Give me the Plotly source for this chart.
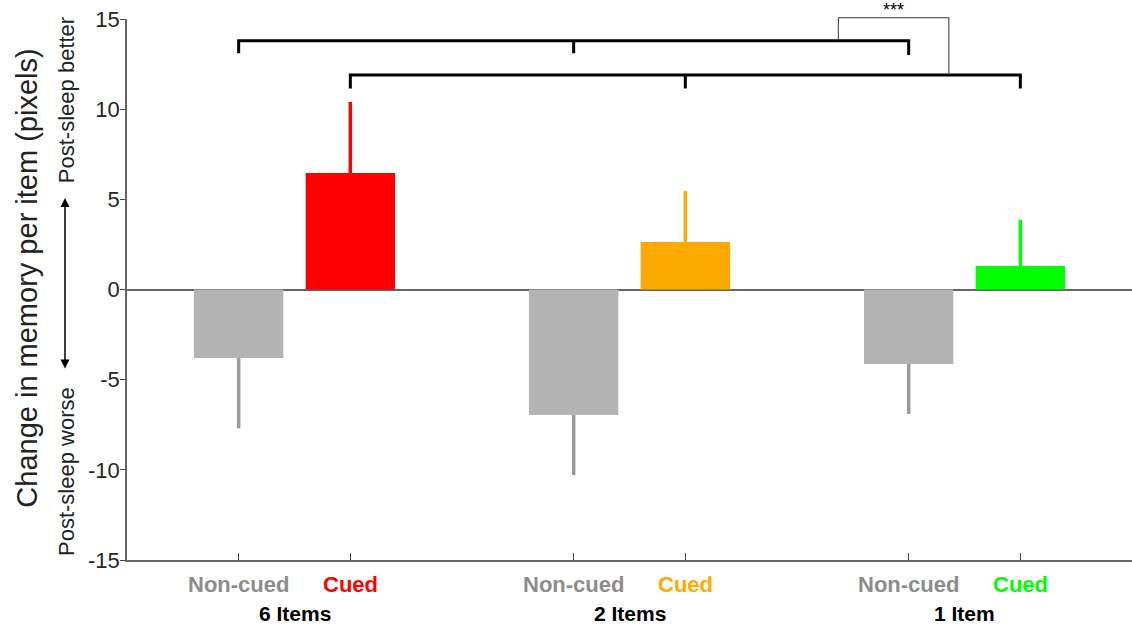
import plotly.graph_objects as go

# ---- data ----
groups = ["6 Items", "2 Items", "1 Item"]
noncued_x = [1, 4, 7]
cued_x = [2, 5, 8]
noncued_mean = [-3.8, -6.96, -4.13]
noncued_sem = [3.9, 3.33, 2.77]
cued_mean = [6.46, 2.63, 1.30]
cued_sem = [3.94, 2.83, 2.55]
cued_colors = ["#ff0000", "#ffaa00", "#00ff00"]
noncued_color = "#b3b3b3"
noncued_err_color = "#9a9a9a"
noncued_label_color = "#8c8c8c"
yticks = [-15, -10, -5, 0, 5, 10, 15]
ytick_text = ["-15", "-10", "-5", "0", "5", "10", "15"]
XR = [0, 9]
YR = [-15, 15]

FONT = "Arial, Liberation Sans, sans-serif"

def px(x):
    return (x - XR[0]) / (XR[1] - XR[0])

def py(v):
    return (v - YR[0]) / (YR[1] - YR[0])

fig = go.Figure()

fig.add_trace(go.Bar(
    x=noncued_x, y=noncued_mean, width=0.8,
    marker=dict(color=noncued_color, line=dict(width=0)),
    error_y=dict(type="data", symmetric=False, array=[0, 0, 0], arrayminus=noncued_sem,
                 color=noncued_err_color, thickness=3.5, width=0),
    showlegend=False, hoverinfo="skip"))

for i in range(3):
    fig.add_trace(go.Bar(
        x=[cued_x[i]], y=[cued_mean[i]], width=0.8,
        marker=dict(color=cued_colors[i], line=dict(width=0)),
        error_y=dict(type="data", symmetric=False, array=[cued_sem[i]], arrayminus=[0],
                     color=cued_colors[i], thickness=3.5, width=0),
        showlegend=False, hoverinfo="skip"))

shapes = []
# upper comparison bracket (non-cued)
up_y, up_tick = 13.8, 13.1
shapes.append(dict(type="path", xref="x", yref="y",
                   path=f"M {noncued_x[0]},{up_tick} L {noncued_x[0]},{up_y} L {noncued_x[2]},{up_y} L {noncued_x[2]},{up_tick - 0.1}",
                   line=dict(color="black", width=3)))
shapes.append(dict(type="line", xref="x", yref="y", x0=noncued_x[1], x1=noncued_x[1], y0=up_y, y1=up_tick,
                   line=dict(color="black", width=3)))
# lower comparison bracket (cued)
lo_y, lo_tick = 11.9, 11.15
shapes.append(dict(type="path", xref="x", yref="y",
                   path=f"M {cued_x[0]},{lo_tick} L {cued_x[0]},{lo_y} L {cued_x[2]},{lo_y} L {cued_x[2]},{lo_tick}",
                   line=dict(color="black", width=3)))
shapes.append(dict(type="line", xref="x", yref="y", x0=cued_x[1], x1=cued_x[1], y0=lo_y, y1=lo_tick,
                   line=dict(color="black", width=3)))
# significance bracket between the two
sx0, sx1, stop = 6.37, 7.36, 15.07
shapes.append(dict(type="path", xref="paper", yref="paper",
                   path=f"M {px(sx0)},{py(up_y)} L {px(sx0)},{py(stop)} L {px(sx1)},{py(stop)} L {px(sx1)},{py(lo_y)}",
                   line=dict(color="#333333", width=1)))

annotations = []
annotations.append(dict(x=px((sx0 + sx1) / 2), y=py(stop), xref="paper", yref="paper",
                        text="***", showarrow=False, xanchor="center", yanchor="bottom", yshift=-4,
                        font=dict(family=FONT, size=18, color="black")))

# x labels
for i in range(3):
    annotations.append(dict(x=noncued_x[i], y=-0.0444, xref="x", yref="paper", text="<b>Non-cued</b>",
                            showarrow=False, xanchor="center", yanchor="middle",
                            font=dict(family=FONT, size=22, color=noncued_label_color)))
    annotations.append(dict(x=cued_x[i], y=-0.0444, xref="x", yref="paper", text="<b>Cued</b>",
                            showarrow=False, xanchor="center", yanchor="middle",
                            font=dict(family=FONT, size=22, color=cued_colors[i])))
    annotations.append(dict(x=(noncued_x[i] + cued_x[i]) / 2, y=-0.0998, xref="x", yref="paper",
                            text=f"<b>{groups[i]}</b>", showarrow=False, xanchor="center", yanchor="middle",
                            font=dict(family=FONT, size=21, color="black")))

# y title and side labels
annotations.append(dict(x=-0.0995, y=0.52, xref="paper", yref="paper",
                        text="Change in memory per item (pixels)", textangle=-90, showarrow=False,
                        xanchor="center", yanchor="middle",
                        font=dict(family=FONT, size=29, color="#222222")))
annotations.append(dict(x=-0.0607, y=0.850, xref="paper", yref="paper",
                        text="Post-sleep better", textangle=-90, showarrow=False,
                        xanchor="center", yanchor="middle",
                        font=dict(family=FONT, size=22, color="#222222")))
annotations.append(dict(x=-0.0607, y=0.1645, xref="paper", yref="paper",
                        text="Post-sleep worse", textangle=-90, showarrow=False,
                        xanchor="center", yanchor="middle",
                        font=dict(family=FONT, size=22, color="#222222")))
# double-headed arrow
annotations.append(dict(x=-0.0617, y=0.669, xref="paper", yref="paper", text="",
                        showarrow=True, axref="pixel", ayref="pixel", ax=0, ay=172,
                        arrowside="end+start", arrowhead=2, arrowsize=1.2, arrowwidth=1.5,
                        arrowcolor="black", standoff=0, startstandoff=0))

fig.update_layout(
    width=1132, height=632,
    margin=dict(l=127, r=0, t=19, b=72),
    paper_bgcolor="white", plot_bgcolor="white",
    barmode="overlay",
    shapes=shapes, annotations=annotations,
    xaxis=dict(range=XR, showgrid=False, zeroline=False, showline=True, linecolor="#666666",
               linewidth=1.5, ticks="inside", ticklen=7, tickcolor="#444444",
               tickvals=noncued_x + cued_x, showticklabels=False),
    yaxis=dict(range=YR, showgrid=False, zeroline=True, zerolinecolor="#666666", zerolinewidth=1.5,
               showline=True, linecolor="#666666", linewidth=1.5, ticks="outside", ticklen=5,
               tickcolor="#444444", tickvals=yticks, ticktext=ytick_text, ticklabelstandoff=-4,
               tickfont=dict(family=FONT, size=22, color="#262626")),
)

fig.write_html("out.html", config={"displayModeBar": False},
               post_script="document.body.style.margin='0';document.body.style.overflow='hidden';")
